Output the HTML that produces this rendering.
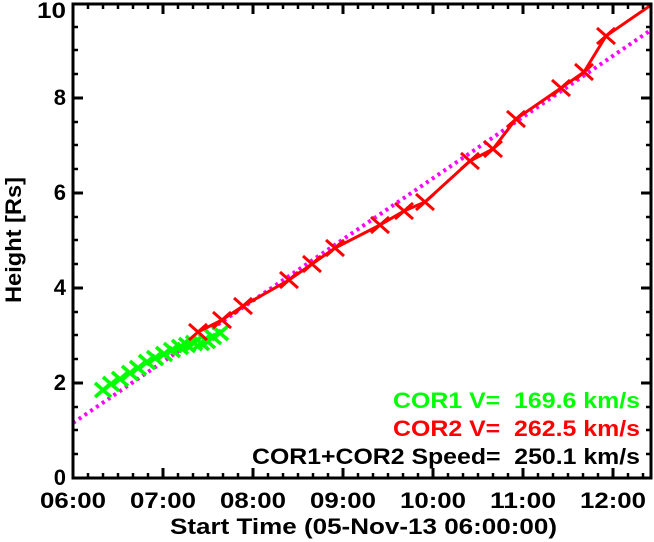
<!DOCTYPE html>
<html><head><meta charset="utf-8"><style>
html,body{margin:0;padding:0;background:#fff}
svg{display:block}
text{font-family:"Liberation Sans",sans-serif;font-weight:bold}
</style></head><body>
<svg width="654" height="542" viewBox="0 0 654 542" xmlns="http://www.w3.org/2000/svg">
<defs>
<g id="rx"><path d="M-9,-8 L9,8 M-9,8 L9,-8" stroke="#ff0000" stroke-width="3"/></g>
<g id="gx"><path d="M-8,-7 L8,7 M-8,7 L8,-7" stroke="#00ff00" stroke-width="3.5"/></g>
</defs>
<line x1="73" y1="423" x2="651" y2="30" stroke="#ff00ff" stroke-width="4" stroke-dasharray="3,4"/>
<g>
<use href="#gx" x="103" y="390"/><use href="#gx" x="111" y="384"/><use href="#gx" x="120" y="379"/>
<use href="#gx" x="130" y="373"/><use href="#gx" x="138" y="368"/><use href="#gx" x="147" y="362"/>
<use href="#gx" x="155" y="358"/><use href="#gx" x="164" y="354"/><use href="#gx" x="172" y="350"/>
<use href="#gx" x="180" y="347"/><use href="#gx" x="187" y="345"/><use href="#gx" x="194" y="343"/>
<use href="#gx" x="201" y="343"/><use href="#gx" x="207" y="341"/><use href="#gx" x="213" y="337"/>
<use href="#gx" x="220" y="333"/>
</g>
<polyline fill="none" stroke="#ff0000" stroke-width="3" points="198,332 222,320 243,306 289,280 312,264 335,248 380,225 404,211 425,202 470,161 493,149 516,119 561,88 584,72 606,36 651,5"/>
<g>
<use href="#rx" x="198" y="332"/><use href="#rx" x="222" y="320"/><use href="#rx" x="243" y="306"/>
<use href="#rx" x="289" y="280"/><use href="#rx" x="312" y="264"/><use href="#rx" x="335" y="248"/>
<use href="#rx" x="380" y="225"/><use href="#rx" x="404" y="211"/><use href="#rx" x="425" y="202"/>
<use href="#rx" x="470" y="161"/><use href="#rx" x="493" y="149"/><use href="#rx" x="516" y="119"/>
<use href="#rx" x="561" y="88"/><use href="#rx" x="584" y="72"/><use href="#rx" x="606" y="36"/>
</g>
<rect x="73" y="4" width="578" height="474" fill="none" stroke="#000" stroke-width="3"/>
<g stroke="#000" stroke-width="3">
<path d="M73,383h10M73,288h10M73,193h10M73,98h10M651,383h-10M651,288h-10M651,193h-10M651,98h-10"/>
<path d="M163,478v-10M253,478v-10M343,478v-10M433,478v-10M523,478v-10M613,478v-10M163,4v10M253,4v10M343,4v10M433,4v10M523,4v10M613,4v10"/>
</g>
<g stroke="#000" stroke-width="2.5">
<path d="M73,454h5M73,430h5M73,407h5M73,359h5M73,335h5M73,312h5M73,264h5M73,240h5M73,217h5M73,169h5M73,145h5M73,122h5M73,74h5M73,50h5M73,27h5
M651,454h-5M651,430h-5M651,407h-5M651,359h-5M651,335h-5M651,312h-5M651,264h-5M651,240h-5M651,217h-5M651,169h-5M651,145h-5M651,122h-5M651,74h-5M651,50h-5M651,27h-5"/>
<path d="M88,478v-5M103,478v-5M118,478v-5M133,478v-5M148,478v-5M178,478v-5M193,478v-5M208,478v-5M223,478v-5M238,478v-5M268,478v-5M283,478v-5M298,478v-5M313,478v-5M328,478v-5M358,478v-5M373,478v-5M388,478v-5M403,478v-5M418,478v-5M448,478v-5M463,478v-5M478,478v-5M493,478v-5M508,478v-5M538,478v-5M553,478v-5M568,478v-5M583,478v-5M598,478v-5M628,478v-5M643,478v-5
M88,4v5M103,4v5M118,4v5M133,4v5M148,4v5M178,4v5M193,4v5M208,4v5M223,4v5M238,4v5M268,4v5M283,4v5M298,4v5M313,4v5M328,4v5M358,4v5M373,4v5M388,4v5M403,4v5M418,4v5M448,4v5M463,4v5M478,4v5M493,4v5M508,4v5M538,4v5M553,4v5M568,4v5M583,4v5M598,4v5M628,4v5M643,4v5"/>
</g>
<g font-size="22" text-anchor="end">
<text x="66" y="485">0</text><text x="66" y="390">2</text><text x="66" y="295">4</text>
<text x="66" y="200">6</text><text x="66" y="105">8</text><text x="66" y="18" textLength="29" lengthAdjust="spacingAndGlyphs">10</text>
</g>
<g font-size="22">
<text x="40" y="508" textLength="66" lengthAdjust="spacingAndGlyphs">06:00</text>
<text x="130" y="508" textLength="66" lengthAdjust="spacingAndGlyphs">07:00</text>
<text x="220" y="508" textLength="66" lengthAdjust="spacingAndGlyphs">08:00</text>
<text x="310" y="508" textLength="66" lengthAdjust="spacingAndGlyphs">09:00</text>
<text x="400" y="508" textLength="66" lengthAdjust="spacingAndGlyphs">10:00</text>
<text x="490" y="508" textLength="66" lengthAdjust="spacingAndGlyphs">11:00</text>
<text x="580" y="508" textLength="66" lengthAdjust="spacingAndGlyphs">12:00</text>
<text x="170" y="534" textLength="387" lengthAdjust="spacingAndGlyphs">Start Time (05-Nov-13 06:00:00)</text>
</g>
<text font-size="22" transform="translate(21,303) rotate(-90)" textLength="126" lengthAdjust="spacingAndGlyphs">Height [Rs]</text>
<g font-size="22">
<text x="393" y="408" fill="#00ff00" textLength="247" lengthAdjust="spacingAndGlyphs" xml:space="preserve">COR1 V=  169.6 km/s</text>
<text x="393" y="436" fill="#ff0000" textLength="247" lengthAdjust="spacingAndGlyphs" xml:space="preserve">COR2 V=  262.5 km/s</text>
<text x="252" y="464" fill="#000" textLength="388" lengthAdjust="spacingAndGlyphs" xml:space="preserve">COR1+COR2 Speed=  250.1 km/s</text>
</g>
</svg>
</body></html>
